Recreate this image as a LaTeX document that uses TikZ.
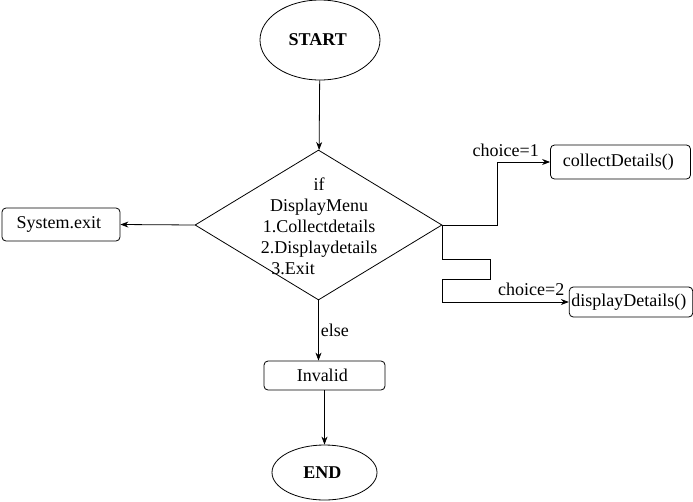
\documentclass[tikz,border=0pt]{standalone}
\usepackage{fontspec}
\setmainfont{Liberation Serif}
\usetikzlibrary{shapes.geometric, arrows.meta}

\begin{document}
\begin{tikzpicture}[x = 1pt, y = -1pt, line width = 0.8pt,
  every node/.style={font = \fontsize{18}{21}\selectfont, inner sep = 2pt, align = center},
  terminal/.style={draw, ellipse, font = \fontsize{18}{21}\selectfont\bfseries},
  process/.style={draw, rectangle, rounded corners = 4pt},
  decision/.style={draw, diamond, minimum width = 247pt, minimum height = 150pt},
  flow/.style={-{Stealth[length = 8pt, width = 6pt]}}]

  \useasboundingbox (0, 0) rectangle (693, 501);

  \node[terminal, minimum width = 120pt, minimum height = 80pt] (start) at (320, 40) { START };

  \node[decision] (menu) at (318.5, 225) {};
  \node (menutext) at (319, 226) { if\\ DisplayMenu\\ 1.Collectdetails\\ 2.Displaydetails\\ 3.Exit\hspace*{52pt} };

  \node[process, minimum width = 118pt, minimum height = 33pt] (sysexit) at (61, 224.5) { System.exit };
  \node[process, minimum width = 140pt, minimum height = 34pt] (collect) at (620.5, 162) { collectDetails() };
  \node[process, minimum width = 118pt, minimum height = 30pt] (display) at (631, 302) { displayDetails() };
  \node[process, minimum width = 121pt, minimum height = 29pt] (invalid) at (324.5, 375.5) { Invalid };

  \node[terminal, minimum width = 105pt, minimum height = 55pt] (end) at (324.5, 472.5) { END };

  \draw[flow] (start) -- (menu);
  \draw[flow] (menu.west) -- (sysexit.east);
  \draw[flow] (menu.south) -- node[right, pos = 0.5] { else } (menu.south |- invalid.north);
  \draw[flow] (invalid.south) -- (end.north);

  \draw[flow] (menu.east) -- ++(55, 0) |- node[pos = 0.6, above, inner sep = 1pt, yshift = 4pt] { choice=1 } (collect.west);
  \draw[flow] (menu.east) -- ++(0, 34) -- ++(48, 0) -- ++(0, 20) -- ++(-48, 0) |- node[pos = 0.86, above, inner sep = 1pt, yshift = 5pt] { choice=2 } (display.west);

\end{tikzpicture}
\end{document}
